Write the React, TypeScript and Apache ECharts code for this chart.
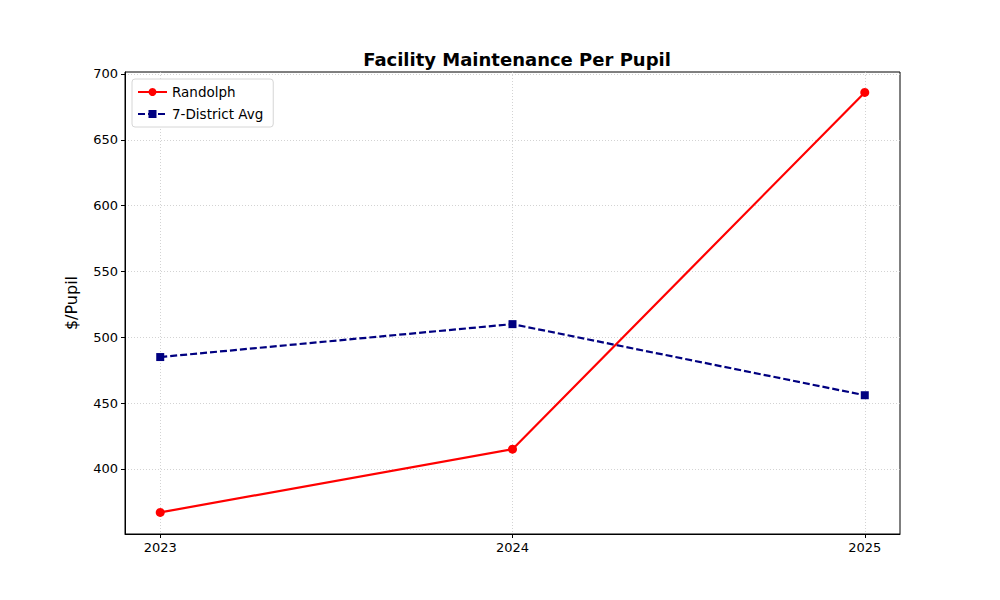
import { useEffect, useRef } from 'react'
import * as echarts from 'echarts'

const years = [2023, 2024, 2025]
const randolph = [367, 415, 686]
const districtAvg = [485, 510, 456]
const yTicks = [400, 450, 500, 550, 600, 650, 700]

const font = 'DejaVu Sans, sans-serif'

export default function App() {
  const chartRef = useRef<HTMLDivElement | null>(null)

  useEffect(() => {
    if (!chartRef.current) {
      return undefined
    }
    const chart = echarts.init(chartRef.current, undefined, { renderer: 'svg' })

    const gridLine = { show: true, lineStyle: { color: '#c8c8c8', type: [1, 2], width: 0.8 } }

    chart.setOption({
      animation: false,
      backgroundColor: '#ffffff',
      textStyle: { fontFamily: font },
      title: {
        text: 'Facility Maintenance Per Pupil',
        left: 512,
        textAlign: 'center',
        top: 45,
        textStyle: { fontSize: 18, fontWeight: 'bold', color: '#000', fontFamily: font },
      },
      grid: { left: 125, right: 100, top: 72, bottom: 66, show: true, borderColor: '#000', borderWidth: 1 },
      legend: {
        orient: 'vertical',
        left: 132,
        top: 79,
        itemWidth: 29,
        itemHeight: 10,
        itemGap: 8,
        padding: [6, 10, 6, 5],
        backgroundColor: '#fff',
        borderColor: '#d6d6d6',
        borderWidth: 1,
        borderRadius: 3,
        textStyle: { fontSize: 13.5, color: '#000', fontFamily: font },
        data: ['Randolph', '7-District Avg'],
      },
      xAxis: {
        type: 'value',
        min: 2022.9,
        max: 2025.1,
        axisLine: { show: true, lineStyle: { color: '#000' } },
        axisTick: { show: true, customValues: years, length: 4, lineStyle: { color: '#000' } },
        axisLabel: {
          customValues: years,
          color: '#000',
          fontSize: 13,
          margin: 7,
          fontFamily: font,
          formatter: (v: number) => String(Math.round(v)),
        },
        splitLine: gridLine,
      },
      yAxis: {
        type: 'value',
        min: 350.6,
        max: 701.5,
        name: '$/Pupil',
        nameLocation: 'middle',
        nameGap: 46,
        nameTextStyle: { fontSize: 16, color: '#000', fontFamily: font },
        axisLine: { show: true, lineStyle: { color: '#000' } },
        axisTick: { show: true, customValues: yTicks, length: 4, lineStyle: { color: '#000' } },
        axisLabel: { customValues: yTicks, color: '#000', fontSize: 13, margin: 7, fontFamily: font },
        splitLine: gridLine,
      },
      series: [
        {
          name: 'Randolph',
          type: 'line',
          data: years.map((y, i) => [y, randolph[i]]),
          symbol: 'circle',
          symbolSize: 9,
          color: '#ff0000',
          lineStyle: { width: 2.2, color: '#ff0000' },
          itemStyle: { color: '#ff0000' },
          z: 3,
        },
        {
          name: '7-District Avg',
          type: 'line',
          data: years.map((y, i) => [y, districtAvg[i]]),
          symbol: 'rect',
          symbolSize: 8,
          color: '#000080',
          lineStyle: { width: 2.2, color: '#000080', type: [7, 3] },
          itemStyle: { color: '#000080' },
          z: 2,
        },
      ],
    })

    return () => {
      chart.dispose()
    }
  }, [])

  return <div ref={chartRef} style={{ position: 'absolute', left: 0, top: 0, width: 1000, height: 600 }} />
}
